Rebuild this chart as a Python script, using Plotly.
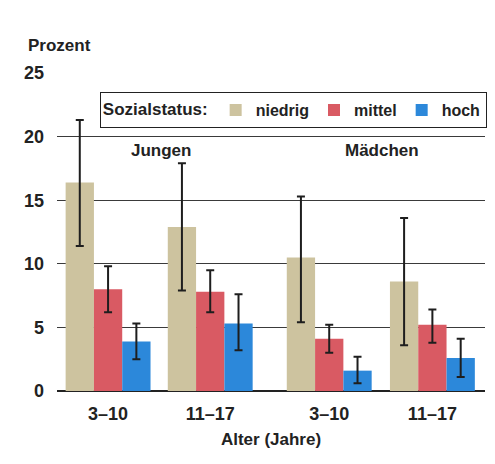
import plotly.graph_objects as go

# ---- data ----
age_labels = ["3–10", "11–17", "3–10", "11–17"]
gender_labels = ["Jungen", "Mädchen"]
series_names = ["niedrig", "mittel", "hoch"]

niedrig = [16.4, 12.9, 10.5, 8.6]
niedrig_hi = [21.3, 17.9, 15.3, 13.6]
niedrig_lo = [11.4, 7.9, 5.4, 3.6]

mittel = [8.0, 7.8, 4.1, 5.2]
mittel_hi = [9.8, 9.5, 5.2, 6.4]
mittel_lo = [6.2, 6.2, 3.0, 3.8]

hoch = [3.9, 5.3, 1.6, 2.6]
hoch_hi = [5.3, 7.6, 2.7, 4.1]
hoch_lo = [2.5, 3.2, 0.6, 1.1]

y_ticks = [0, 5, 10, 15, 20, 25]

# ---- layout helpers ----
group_pos = [0, 1, 2.165, 3.175]
bar_w = 0.277
colors = ["#cdc39f", "#d95a63", "#2c88da"]
FONT = "Liberation Sans, Arial, sans-serif"

fig = go.Figure()
values = [niedrig, mittel, hoch]
his = [niedrig_hi, mittel_hi, hoch_hi]
los = [niedrig_lo, mittel_lo, hoch_lo]
for i, name in enumerate(series_names):
    v = values[i]
    fig.add_trace(go.Bar(
        x=group_pos, y=v, name="<b>%s</b>" % name,
        width=bar_w, offset=-1.5 * bar_w + i * bar_w,
        marker=dict(color=colors[i], line=dict(width=0)),
        error_y=dict(type="data", symmetric=False,
                     array=[h - a for h, a in zip(his[i], v)],
                     arrayminus=[a - l for a, l in zip(v, los[i])],
                     color="#1e1e1e", thickness=2, width=4),
    ))

# page body adds an 8px margin; size the figure so that it fits the window
fig.update_layout(
    width=487, height=456,
    margin=dict(l=49, r=10, t=65, b=73, autoexpand=False),
    paper_bgcolor="#ffffff", plot_bgcolor="#ffffff",
    barmode="overlay",
    font=dict(family=FONT, size=16, color="#222222"),
    showlegend=True,
    legend=dict(
        orientation="h", x=0.1, xanchor="left", y=0.94, yanchor="top",
        bgcolor="#ffffff", bordercolor="#222222", borderwidth=1,
        title=dict(text="<b>Sozialstatus:</b>", font=dict(size=17, family=FONT)),
        font=dict(size=16, family=FONT),
        itemwidth=30, traceorder="normal",
    ),
    xaxis=dict(
        range=[-0.5, 3.69], tickvals=group_pos,
        ticktext=["<b>%s</b>" % t for t in age_labels],
        showgrid=False, zeroline=False, showline=False, ticks="",
        automargin=False, ticklabelstandoff=10,
        tickfont=dict(size=18, family=FONT),
        title=dict(text="<b>Alter (Jahre)</b>", font=dict(size=17, family=FONT), standoff=10),
    ),
    yaxis=dict(
        range=[0, 25], tickvals=y_ticks,
        ticktext=["<b>%d</b>" % t for t in y_ticks],
        showgrid=True, gridcolor="#3a3a3a", gridwidth=1.3,
        zeroline=True, zerolinecolor="#222222", zerolinewidth=2,
        ticks="", ticklabelstandoff=12, automargin=False,
        tickfont=dict(size=18, family=FONT),
    ),
)

fig.add_annotation(x=0.52, y=18.9, xref="x", yref="y", text="<b>%s</b>" % gender_labels[0],
                   showarrow=False, font=dict(size=17, family=FONT))
fig.add_annotation(x=2.68, y=18.9, xref="x", yref="y", text="<b>%s</b>" % gender_labels[1],
                   showarrow=False, font=dict(size=17, family=FONT))
fig.add_annotation(x=-0.072, y=1.088, xref="paper", yref="paper", xanchor="left", yanchor="middle",
                   text="<b>Prozent</b>", showarrow=False, font=dict(size=17, family=FONT))

fig.write_html("out.html")
